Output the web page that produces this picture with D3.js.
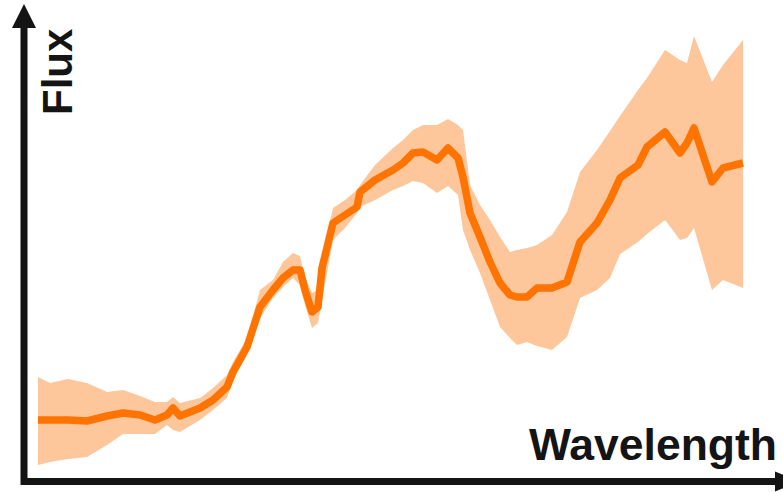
<!DOCTYPE html>
<html>
<head>
<meta charset="utf-8">
<script src="https://cdn.jsdelivr.net/npm/d3@7"></script>
<style>
  html, body { margin: 0; padding: 0; background: #ffffff; }
  svg { display: block; }
</style>
</head>
<body>
<svg id="chart" width="783" height="492"></svg>
<script>
// Spectrum: wavelength (arbitrary units), mean flux and its uncertainty envelope
const wavelength = [0, 12, 30, 49, 69, 85, 102, 117, 129, 135, 142, 162, 175, 189, 195, 209, 222, 235, 245, 255,
  262, 267, 274, 280, 284, 295, 307, 319, 322, 337, 355, 365, 375, 385, 399, 410, 420, 425, 432, 442,
  452, 462, 472, 479, 489, 499, 514, 529, 542, 559, 572, 582, 600, 609, 627, 642, 649, 656, 674, 685, 705];

const flux = [62, 62, 62, 61, 66, 69, 67, 62, 67, 74, 66, 74, 82, 95, 110, 135, 175, 192, 204, 212,
  212, 192, 170, 175, 214, 259, 267, 275, 290, 302, 312, 319, 329, 330, 322, 334, 324, 305, 269, 245,
  220, 199, 187, 185, 185, 194, 194, 200, 240, 259, 282, 304, 317, 335, 350, 329, 339, 354, 300, 314, 319];

const fluxHigh = [105, 99, 103, 99, 90, 92, 86, 80, 80, 85, 79, 84, 94, 107, 120, 144, 192, 202, 220, 229,
  226, 205, 189, 192, 224, 274, 282, 292, 297, 317, 334, 342, 352, 357, 357, 363, 357, 352, 297, 277,
  262, 245, 230, 232, 234, 237, 247, 270, 310, 332, 351, 366, 392, 404, 432, 422, 419, 446, 400, 417, 442];

const fluxLow = [17, 20, 23, 25, 37, 48, 48, 48, 57, 52, 50, 62, 72, 84, 102, 127, 164, 184, 195, 204,
  197, 177, 154, 159, 182, 242, 254, 269, 275, 282, 292, 296, 301, 299, 289, 296, 287, 252, 232, 209,
  182, 155, 144, 137, 140, 136, 132, 145, 184, 192, 204, 228, 240, 248, 262, 242, 244, 254, 192, 202, 194];

const xLabel = "Wavelength";
const yLabel = "Flux";

const svg = d3.select("#chart");

const x = d3.scaleLinear().domain([0, 705]).range([38, 743]);
const y = d3.scaleLinear().domain([0, 482]).range([482, 0]);

const rows = wavelength.map((w, i) => ({ w, f: flux[i], lo: fluxLow[i], hi: fluxHigh[i] }));

// uncertainty band
svg.append("path")
  .datum(rows)
  .attr("fill", "#fdc79b")
  .attr("d", d3.area()
    .x(d => x(d.w))
    .y0(d => y(d.lo))
    .y1(d => y(d.hi)));

// mean flux
svg.append("path")
  .datum(rows)
  .attr("fill", "none")
  .attr("stroke", "#ff7300")
  .attr("stroke-width", 7.5)
  .attr("stroke-linejoin", "round")
  .attr("d", d3.line()
    .x(d => x(d.w))
    .y(d => y(d.f)));

// axes drawn as arrows
const ink = "#141414";
const axisX = 24, axisY = 481.5;

svg.append("line")
  .attr("x1", axisX).attr("y1", 485)
  .attr("x2", axisX).attr("y2", 26)
  .attr("stroke", ink).attr("stroke-width", 7);
svg.append("path")
  .attr("fill", ink)
  .attr("d", `M${axisX - 12},28 L${axisX},4 L${axisX + 12},28 Z`);

svg.append("line")
  .attr("x1", axisX - 3).attr("y1", axisY)
  .attr("x2", 777).attr("y2", axisY)
  .attr("stroke", ink).attr("stroke-width", 7);
svg.append("path")
  .attr("fill", ink)
  .attr("d", `M775,${axisY - 10} L799,${axisY} L775,${axisY + 10} Z`);

// axis titles
svg.append("text")
  .attr("x", 777).attr("y", 460)
  .attr("text-anchor", "end")
  .attr("font-family", "'Liberation Sans', Arial, sans-serif")
  .attr("font-weight", 700)
  .attr("font-size", 44.5)
  .attr("fill", ink)
  .text(xLabel);

svg.append("text")
  .attr("transform", "translate(72,115) rotate(-90)")
  .attr("text-anchor", "start")
  .attr("font-family", "'Liberation Sans', Arial, sans-serif")
  .attr("font-weight", 700)
  .attr("font-size", 42)
  .attr("fill", ink)
  .text(yLabel);
</script>
</body>
</html>
